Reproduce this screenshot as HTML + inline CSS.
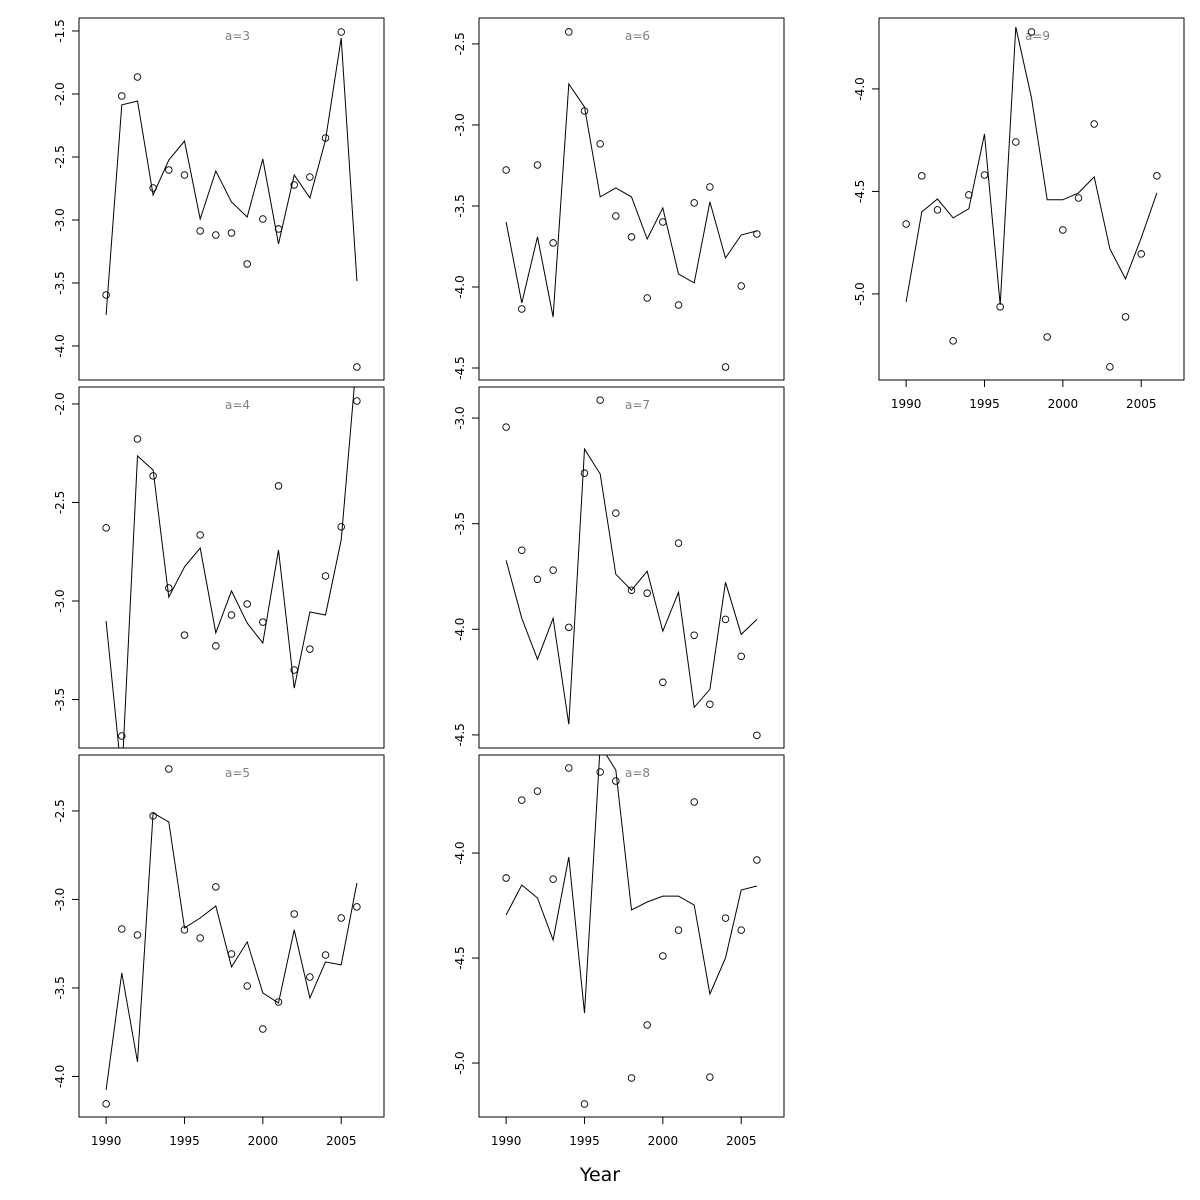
<!DOCTYPE html>
<html><head><meta charset="utf-8"><style>
html,body{margin:0;padding:0;background:#fff;}
svg{display:block;font-family:"DejaVu Sans","Liberation Sans",sans-serif;}
</style></head><body>
<svg id="chart" width="1200" height="1200" viewBox="0 0 1200 1200" xmlns="http://www.w3.org/2000/svg">
<text x="600" y="1181" font-size="19" text-anchor="middle">Year</text>
</svg>
<script>
const years = [1990,1991,1992,1993,1994,1995,1996,1997,1998,1999,2000,2001,2002,2003,2004,2005,2006];
const xTicks = [1990,1995,2000,2005];
const labels = ["a=3","a=6","a=9","a=4","a=7","a=5","a=8"];
const pts3 = [-3.595,-2.016,-1.865,-2.746,-2.603,-2.643,-3.087,-3.119,-3.103,-3.349,-2.992,-3.071,-2.722,-2.659,-2.349,-1.508,-4.167];
const fit3 = [-3.754,-2.087,-2.056,-2.802,-2.524,-2.373,-2.992,-2.611,-2.857,-2.976,-2.516,-3.190,-2.643,-2.825,-2.365,-1.556,-3.484];
const pts6 = [-3.278,-4.136,-3.247,-3.728,-2.426,-2.914,-3.117,-3.562,-3.691,-4.068,-3.599,-4.111,-3.481,-3.383,-4.494,-3.994,-3.673];
const fit6 = [-3.599,-4.099,-3.691,-4.185,-2.747,-2.889,-3.444,-3.389,-3.444,-3.704,-3.512,-3.920,-3.975,-3.475,-3.821,-3.679,-3.654];
const pts9 = [-4.659,-4.424,-4.590,-5.229,-4.517,-4.420,-5.063,-4.259,-3.722,-5.210,-4.688,-4.532,-4.171,-5.356,-5.112,-4.805,-4.424];
const fit9 = [-5.039,-4.600,-4.537,-4.629,-4.585,-4.220,-5.054,-3.698,-4.044,-4.541,-4.541,-4.507,-4.429,-4.780,-4.927,-4.727,-4.507];
const pts4 = [-2.629,-3.685,-2.178,-2.365,-2.934,-3.173,-2.665,-3.228,-3.071,-3.015,-3.107,-2.416,-3.350,-3.244,-2.873,-2.624,-1.985];
const fit4 = [-3.102,-3.898,-2.264,-2.335,-2.980,-2.827,-2.731,-3.162,-2.949,-3.112,-3.213,-2.741,-3.442,-3.056,-3.071,-2.690,-1.756];
const pts7 = [-3.043,-3.626,-3.763,-3.720,-3.991,-3.261,-2.915,-3.450,-3.815,-3.829,-4.251,-3.592,-4.028,-4.355,-3.953,-4.128,-4.502];
const fit7 = [-3.673,-3.948,-4.142,-3.948,-4.450,-3.147,-3.265,-3.739,-3.815,-3.725,-4.009,-3.825,-4.370,-4.284,-3.777,-4.024,-3.953];
const pts5 = [-4.155,-3.167,-3.201,-2.528,-2.263,-3.172,-3.218,-2.929,-3.308,-3.489,-3.732,-3.579,-3.082,-3.438,-3.314,-3.105,-3.042];
const fit5 = [-4.076,-3.415,-3.918,-2.511,-2.562,-3.161,-3.105,-3.037,-3.381,-3.240,-3.528,-3.585,-3.172,-3.556,-3.353,-3.370,-2.907];
const pts8 = [-4.119,-3.748,-3.705,-4.124,-3.595,-5.195,-3.614,-3.657,-5.071,-4.819,-4.490,-4.367,-3.757,-5.067,-4.310,-4.367,-4.033];
const fit8 = [-4.295,-4.152,-4.214,-4.414,-4.019,-4.762,-3.486,-3.605,-4.271,-4.233,-4.205,-4.205,-4.248,-4.671,-4.500,-4.176,-4.157];
const yTicks3 = [-1.5,-2.0,-2.5,-3.0,-3.5,-4.0];
const yTicks6 = [-2.5,-3.0,-3.5,-4.0,-4.5];
const yTicks9 = [-4.0,-4.5,-5.0];
const yTicks4 = [-2.0,-2.5,-3.0,-3.5];
const yTicks7 = [-3.0,-3.5,-4.0,-4.5];
const yTicks5 = [-2.5,-3.0,-3.5,-4.0];
const yTicks8 = [-4.0,-4.5,-5.0];

const NS = "http://www.w3.org/2000/svg";
const svg = document.getElementById('chart');
function mk(tag, attrs, parent){
  const e = document.createElementNS(NS, tag);
  for (const k in attrs) e.setAttribute(k, attrs[k]);
  (parent||svg).appendChild(e);
  return e;
}
const colX = [79,479,879], rowY = [[18,380],[387,748],[755,1117]];
const W = 305;
const xMin = 1988.27, xMax = 2007.73;
const panels = [
 {lab:0,c:0,r:0,pts:pts3,fit:fit3,ticks:yTicks3,ymax:-1.397,ymin:-4.270,xaxis:false},
 {lab:1,c:1,r:0,pts:pts6,fit:fit6,ticks:yTicks6,ymax:-2.340,ymin:-4.574,xaxis:false},
 {lab:2,c:2,r:0,pts:pts9,fit:fit9,ticks:yTicks9,ymax:-3.654,ymin:-5.420,xaxis:true},
 {lab:3,c:0,r:1,pts:pts4,fit:fit4,ticks:yTicks4,ymax:-1.914,ymin:-3.746,xaxis:false},
 {lab:4,c:1,r:1,pts:pts7,fit:fit7,ticks:yTicks7,ymax:-2.853,ymin:-4.562,xaxis:false},
 {lab:5,c:0,r:2,pts:pts5,fit:fit5,ticks:yTicks5,ymax:-2.184,ymin:-4.229,xaxis:true},
 {lab:6,c:1,r:2,pts:pts8,fit:fit8,ticks:yTicks8,ymax:-3.533,ymin:-5.257,xaxis:true}
];
panels.forEach((p,i)=>{
  const x0 = colX[p.c], y0 = rowY[p.r][0], y1 = rowY[p.r][1];
  const sx = v => x0 + (v - xMin)/(xMax - xMin)*W;
  const sy = v => y0 + (p.ymax - v)/(p.ymax - p.ymin)*(y1 - y0);
  const g = mk('g', {});
  
  
  const cp = mk('clipPath', {id:'clip'+i}, g);
  mk('rect', {x:x0, y:y0, width:W, height:y1-y0}, cp);
  const box = mk('rect', {x:x0, y:y0, width:W, height:y1-y0, fill:'none', stroke:'#000', 'stroke-width':1}, g);
  
  
  const t = mk('text', {x:x0+W/2+6, y:y0+22, 'font-size':12, fill:'#808080', 'text-anchor':'middle'}, g);
  t.textContent = labels[p.lab];
  
  
  p.ticks.forEach(v=>{
    const y = sy(v);
    const tk = mk('line', {x1:x0, x2:x0-7, y1:y, y2:y, stroke:'#000'}, g);
    
    
    const tl = mk('text', {x:x0-15, y:y, 'font-size':12, 'text-anchor':'middle', transform:`rotate(-90 ${x0-15} ${y})`}, g);
    tl.textContent = v.toFixed(1);
    
    
  });
  if (p.xaxis){
    xTicks.forEach(v=>{
      const x = sx(v);
      const tk = mk('line', {x1:x, x2:x, y1:y1, y2:y1+7, stroke:'#000'}, g);
      
      
      const tl = mk('text', {x:x, y:y1+28, 'font-size':12, 'text-anchor':'middle'}, g);
      tl.textContent = v;
      
      
    });
  }
  const cg = mk('g', {'clip-path':`url(#clip${i})`}, g);
  const d = p.fit.map((v,j)=>(j?'L':'M')+sx(years[j]).toFixed(1)+','+sy(v).toFixed(1)).join('');
  const ln = mk('path', {d:d, fill:'none', stroke:'#000', 'stroke-width':1}, cg);
  
  
  p.pts.forEach((v,j)=>{
    const c = mk('circle', {cx:sx(years[j]), cy:sy(v), r:3.3, fill:'none', stroke:'#000', 'stroke-width':0.9}, cg);
    
    
  });
});
</script>
</body></html>
